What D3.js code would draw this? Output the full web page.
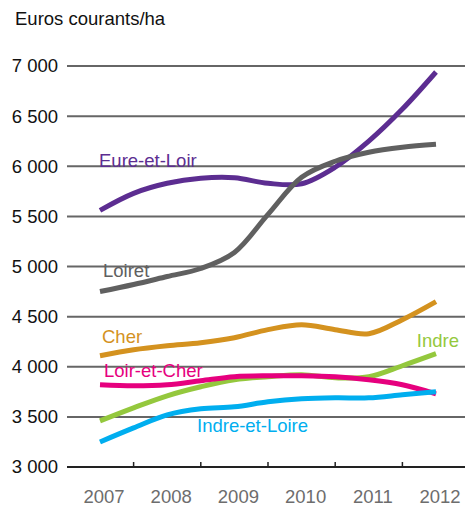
<!DOCTYPE html>
<html>
<head>
<meta charset="utf-8">
<script src="https://cdn.jsdelivr.net/npm/d3@7"></script>
<style>
  body { margin: 0; background: #fff; }
  svg text { font-family: "Liberation Sans", Arial, sans-serif; }
</style>
</head>
<body>
<div id="chart"></div>
<script>
// Données (semestrielles)
const periodes = [2007, 2007.5, 2008, 2008.5, 2009, 2009.5, 2010, 2010.5, 2011, 2011.5, 2012];
const annees = [2007, 2008, 2009, 2010, 2011, 2012];
const yTicks = [3000, 3500, 4000, 4500, 5000, 5500, 6000, 6500, 7000];

const eureEtLoir   = [5560, 5730, 5830, 5880, 5885, 5830, 5825, 5990, 6250, 6570, 6940];
const loiret       = [4750, 4820, 4900, 4980, 5140, 5520, 5890, 6050, 6140, 6190, 6220];
const cher         = [4110, 4170, 4210, 4240, 4290, 4370, 4420, 4370, 4330, 4470, 4650];
const indre        = [3460, 3590, 3710, 3800, 3870, 3900, 3920, 3890, 3900, 4010, 4130];
const loirEtCher   = [3820, 3810, 3820, 3860, 3900, 3910, 3910, 3900, 3870, 3820, 3730];
const indreEtLoire = [3250, 3390, 3520, 3580, 3600, 3650, 3680, 3690, 3690, 3720, 3750];

const series = [
  { nom: "Eure-et-Loir", valeurs: eureEtLoir, couleur: "#5c2d91", label: [99, 167, "start"] },
  { nom: "Loiret", valeurs: loiret, couleur: "#606060", label: [103, 277, "start"] },
  { nom: "Cher", valeurs: cher, couleur: "#d4921f", label: [102, 343, "start"] },
  { nom: "Indre", valeurs: indre, couleur: "#94c83d", label: [459, 347, "end"] },
  { nom: "Loir-et-Cher", valeurs: loirEtCher, couleur: "#e6007e", label: [104, 377, "start"] },
  { nom: "Indre-et-Loire", valeurs: indreEtLoire, couleur: "#00aeef", label: [197, 432, "start"] }
];

const width = 465;
const height = 506;
const fs = 18.5;

const svg = d3.select("#chart").append("svg")
    .attr("width", width)
    .attr("height", height)
    .attr("viewBox", [0, 0, width, height]);

const x = d3.scaleLinear([2007, 2012], [100, 436]);
const y = d3.scaleLinear([3000, 7000], [467, 66]);

// titre de l'axe
svg.append("text")
    .attr("x", 15)
    .attr("y", 25)
    .attr("font-size", fs)
    .attr("fill", "#111")
    .text("Euros courants/ha");

// grille + étiquettes Y
const grille = svg.append("g");
grille.selectAll("line")
  .data(yTicks)
  .join("line")
    .attr("x1", 67)
    .attr("x2", width)
    .attr("y1", d => y(d))
    .attr("y2", d => y(d))
    .attr("stroke", d => d === 3000 ? "#222" : "#666")
    .attr("stroke-width", 2);

grille.selectAll("text")
  .data(yTicks)
  .join("text")
    .attr("x", 58)
    .attr("y", d => y(d))
    .attr("dy", "0.35em")
    .attr("text-anchor", "end")
    .attr("font-size", fs)
    .attr("fill", "#111")
    .text(d => d3.format(",")(d).replace(",", " "));

// axe X : petits traits entre les années
svg.append("g")
  .selectAll("line")
  .data(annees.slice(0, -1))
  .join("line")
    .attr("x1", d => x(d + 0.5))
    .attr("x2", d => x(d + 0.5))
    .attr("y1", y(3000))
    .attr("y2", y(3000) - 5)
    .attr("stroke", "#222")
    .attr("stroke-width", 1.5);

svg.append("g")
  .selectAll("text")
  .data(annees)
  .join("text")
    .attr("x", d => x(d) + 4)
    .attr("y", 503)
    .attr("text-anchor", "middle")
    .attr("font-size", fs)
    .attr("fill", "#6d6d6d")
    .text(d => d);

const line = d3.line()
    .x((d, i) => x(periodes[i]))
    .y(d => y(d))
    .curve(d3.curveCatmullRom.alpha(0.5));

svg.append("g")
  .selectAll("path")
  .data(series)
  .join("path")
    .attr("fill", "none")
    .attr("stroke", d => d.couleur)
    .attr("stroke-width", 5)
    .attr("d", d => line(d.valeurs));

svg.append("g")
  .selectAll("text")
  .data(series)
  .join("text")
    .attr("x", d => d.label[0])
    .attr("y", d => d.label[1])
    .attr("text-anchor", d => d.label[2])
    .attr("font-size", fs)
    .attr("fill", d => d.couleur)
    .text(d => d.nom);
</script>
</body>
</html>
